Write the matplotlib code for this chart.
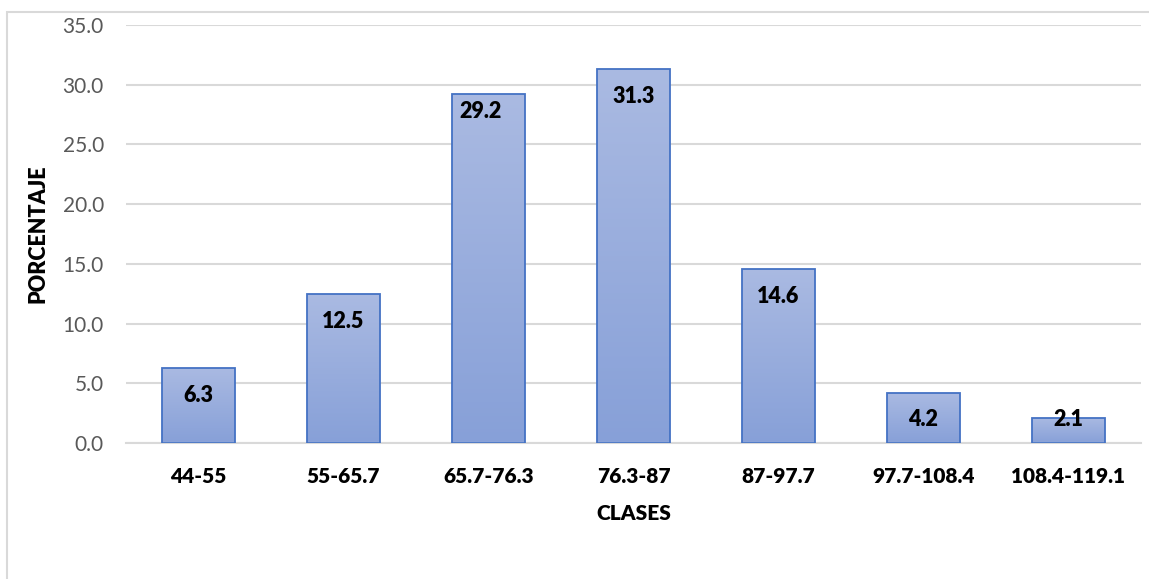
import matplotlib.pyplot as plt
import numpy as np
from matplotlib.colors import LinearSegmentedColormap
from matplotlib.patches import Rectangle

# data
clases = ["44-55", "55-65.7", "65.7-76.3", "76.3-87", "87-97.7", "97.7-108.4", "108.4-119.1"]
porcentaje = [6.3, 12.5, 29.2, 31.3, 14.6, 4.2, 2.1]
y_ticks = [0, 5, 10, 15, 20, 25, 30, 35]

plt.rcParams["font.family"] = ["Lato", "DejaVu Sans"]
HEAVY = 800

W, H = 1149, 579
fig = plt.figure(figsize=(W / 100, H / 100), dpi=100)
ax = fig.add_axes([126 / W, 1 - 443 / H, (1141 - 126) / W, (443 - 25) / H])

# chart area frame (light gray, like an Excel chart border)
fig.patches.append(
    Rectangle((7 / W, -0.1), 1.2, 1 - 12 / H + 0.1, transform=fig.transFigure,
              fill=False, edgecolor="#D9D9D9", linewidth=1.5, zorder=0)
)

x = np.arange(len(clases))
bars = ax.bar(x, porcentaje, width=0.5, color="none", edgecolor="#4472C4",
              linewidth=1.3, zorder=3)

# vertical gradient fill, lighter on top
cmap = LinearSegmentedColormap.from_list("grad", ["#87A0D8", "#AABAE2"])
grad = np.linspace(0, 1, 256).reshape(-1, 1)
for b in bars:
    x0, y0 = b.get_x(), b.get_y()
    im = ax.imshow(grad, cmap=cmap, origin="lower", aspect="auto",
                   extent=[x0, x0 + b.get_width(), y0, y0 + b.get_height()], zorder=2)
    im.set_clip_path(b)

for i, v in enumerate(porcentaje):
    ty = max(v - 2.3, 1.95)
    tx = i
    if v == 29.2:
        ty = v - 1.45
        tx = i - 0.055
    ax.text(tx, ty, f"{v:.1f}", ha="center", va="center", fontsize=15.5,
            fontweight=HEAVY, color="black", zorder=4)

ax.set_xlim(-0.5, len(clases) - 0.5)
ax.set_ylim(0, 35)
ax.set_yticks(y_ticks)
ax.set_yticklabels([f"{t:.1f}" for t in y_ticks])
ax.set_xticks(x)
ax.set_xticklabels(clases, fontweight=HEAVY, fontsize=15)
ax.tick_params(axis="y", length=0, pad=16, labelsize=15, labelcolor="#595959")
ax.tick_params(axis="x", length=0, pad=17)

ax.grid(axis="y", color="#D9D9D9", linewidth=1.5, zorder=0)
ax.set_axisbelow(True)
for s in ["top", "right", "left"]:
    ax.spines[s].set_visible(False)
ax.spines["bottom"].set_color("#D9D9D9")
ax.spines["bottom"].set_linewidth(1.5)

ax.set_xlabel("CLASES", fontweight=HEAVY, fontsize=15, labelpad=13)
ax.set_ylabel("PORCENTAJE", fontweight=HEAVY, fontsize=15.5, labelpad=10)

fig.savefig("out.png", dpi=100)
